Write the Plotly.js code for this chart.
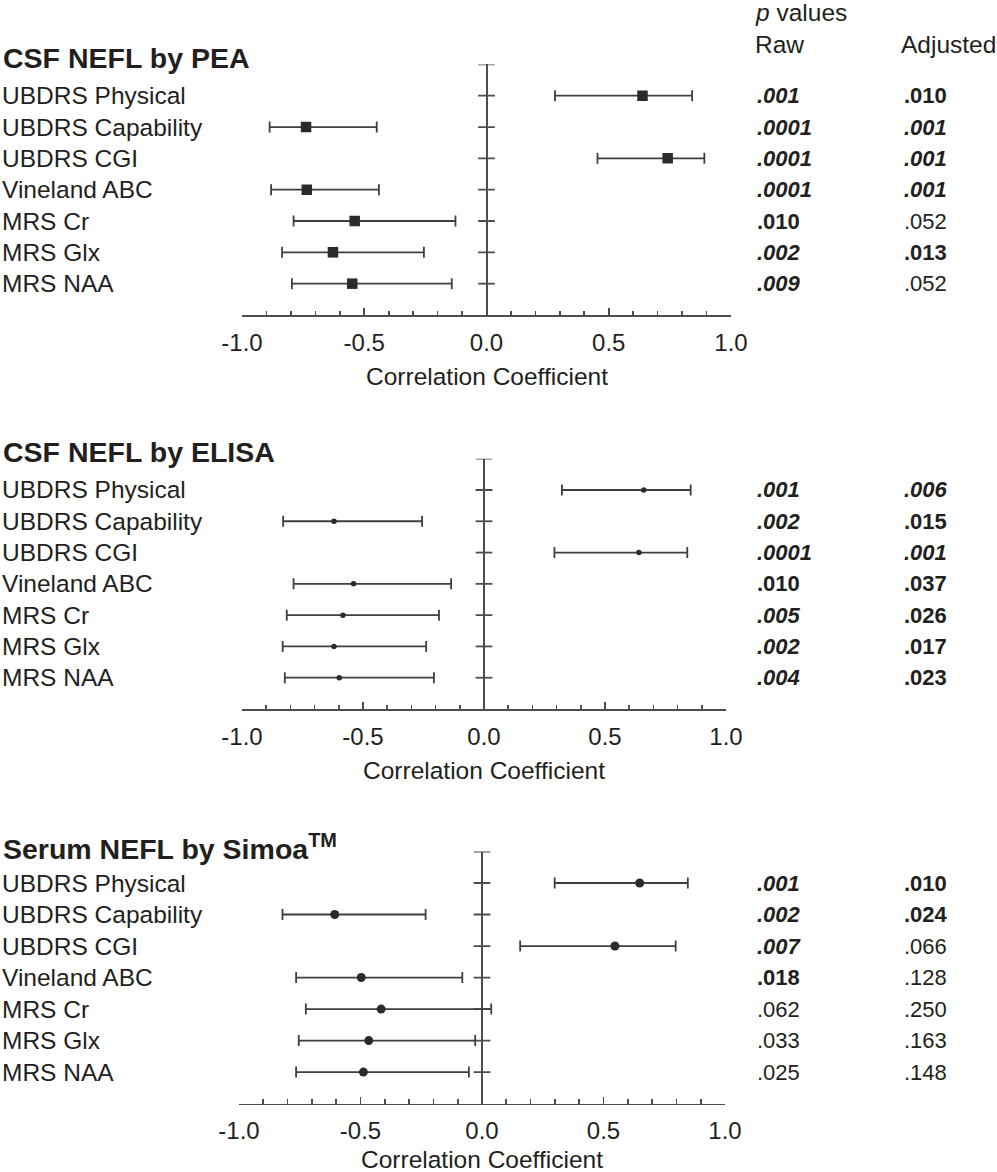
<!DOCTYPE html>
<html>
<head>
<meta charset="utf-8">
<script src="https://cdn.plot.ly/plotly-3.0.1.min.js"></script>
<style>html,body{margin:0;padding:0;background:#fff;}#chart{width:997px;height:1172px;}</style>
</head>
<body>
<div id="chart"></div>
<script>
// ---------- data ----------
const categories = ['UBDRS Physical','UBDRS Capability','UBDRS CGI','Vineland ABC','MRS Cr','MRS Glx','MRS NAA'];

const panelTitles = ['CSF NEFL by PEA','CSF NEFL by ELISA','Serum NEFL by Simoa<sup>TM</sup>'];
const axisTitle = 'Correlation Coefficient';
const tickValues = [-1, -0.5, 0, 0.5, 1];
const tickLabels = ['-1.0','-0.5','0.0','0.5','1.0'];
const pHeader = '<i>p</i> values';
const colHeaders = ['Raw','Adjusted'];

// CSF NEFL by PEA
const peaR  = [0.638, -0.738, 0.741, -0.735, -0.539, -0.628, -0.549];
const peaLo = [0.280, -0.887, 0.454, -0.881, -0.789, -0.836, -0.796];
const peaHi = [0.841, -0.449, 0.891, -0.440, -0.127, -0.256, -0.142];
const peaRaw      = ['.001','.0001','.0001','.0001','.010','.002','.009'];
const peaRawStyle = ['bi','bi','bi','bi','b','bi','bi'];
const peaAdj      = ['.010','.001','.001','.001','.052','.013','.052'];
const peaAdjStyle = ['b','bi','bi','bi','n','b','n'];

// CSF NEFL by ELISA
const elisaR  = [0.660, -0.620, 0.640, -0.539, -0.583, -0.620, -0.598];
const elisaLo = [0.322, -0.830, 0.291, -0.787, -0.815, -0.832, -0.823];
const elisaHi = [0.854, -0.256, 0.840, -0.136, -0.186, -0.239, -0.207];
const elisaRaw      = ['.001','.002','.0001','.010','.005','.002','.004'];
const elisaRawStyle = ['bi','bi','bi','b','bi','bi','bi'];
const elisaAdj      = ['.006','.015','.001','.037','.026','.017','.023'];
const elisaAdjStyle = ['bi','b','bi','b','b','b','b'];

// Serum NEFL by Simoa
const simoaR  = [0.649, -0.606, 0.547, -0.497, -0.415, -0.466, -0.488];
const simoaLo = [0.299, -0.821, 0.157, -0.765, -0.725, -0.754, -0.765];
const simoaHi = [0.847, -0.232, 0.797, -0.081, 0.038, -0.028, -0.054];
const simoaRaw      = ['.001','.002','.007','.018','.062','.033','.025'];
const simoaRawStyle = ['bi','bi','bi','b','n','n','n'];
const simoaAdj      = ['.010','.024','.066','.128','.250','.163','.148'];
const simoaAdjStyle = ['b','b','n','n','n','n','n'];

// ---------- layout helpers ----------
const W = 997, H = 1172;
const FONT = 'Liberation Sans, Arial, Helvetica, sans-serif';
const TXT = '#231f20';
const LINE = '#4d4d4d';
const MARK = '#2b2b2b';

const panels = [
  {r: peaR, lo: peaLo, hi: peaHi, raw: peaRaw, rawS: peaRawStyle, adj: peaAdj, adjS: peaAdjStyle,
   x0: 242, x1: 731, yTop: 64.4, yBot: 315, titleY: 58, axTitleY: 377, symbol: 'square', size: 10.5},
  {r: elisaR, lo: elisaLo, hi: elisaHi, raw: elisaRaw, rawS: elisaRawStyle, adj: elisaAdj, adjS: elisaAdjStyle,
   x0: 242, x1: 726, yTop: 458.7, yBot: 709, titleY: 452, axTitleY: 770, symbol: 'circle', size: 5.5},
  {r: simoaR, lo: simoaLo, hi: simoaHi, raw: simoaRaw, rawS: simoaRawStyle, adj: simoaAdj, adjS: simoaAdjStyle,
   x0: 239, x1: 725, yTop: 851.5, yBot: 1103.6, titleY: 847, axTitleY: 1159, symbol: 'circle', size: 9}
];

function styled(t, s) {
  if (s === 'bi') return '<b><i>' + t + '</i></b>';
  if (s === 'b') return '<b>' + t + '</b>';
  return t;
}
const py = v => 1 - v / H;
const px = v => v / W;

const rows = categories.map((c, i) => i + 1);
const capRows = [0].concat(rows);

const data = [];
const annotations = [];
const layout = {
  width: W, height: H,
  margin: {l: 0, r: 0, t: 0, b: 0},
  paper_bgcolor: '#ffffff', plot_bgcolor: '#ffffff',
  showlegend: false,
  font: {family: FONT, color: TXT, size: 24},
  annotations: annotations
};

panels.forEach((p, k) => {
  const n = k + 1;
  const xa = 'x' + (n === 1 ? '' : n), ya = 'y' + (n === 1 ? '' : n);
  const xKey = 'xaxis' + (n === 1 ? '' : n), yKey = 'yaxis' + (n === 1 ? '' : n);

  layout[xKey] = {
    domain: [px(p.x0), px(p.x1)], anchor: ya, range: [-1, 1],
    tickmode: 'array', tickvals: tickValues, ticktext: tickLabels,
    ticks: 'inside', ticklen: 7, tickwidth: 1.6, tickcolor: LINE,
    minor: {dtick: 0.1, tick0: 0, ticks: 'inside', ticklen: 4.5, tickwidth: 1.6, tickcolor: LINE, showgrid: false},
    showline: true, linecolor: LINE, linewidth: 1.8,
    showgrid: false, zeroline: true, zerolinecolor: LINE, zerolinewidth: 2,
    tickfont: {family: FONT, size: 24, color: TXT},
    ticklabelstandoff: 5,
    fixedrange: true
  };
  layout[yKey] = {
    domain: [py(p.yBot), py(p.yTop)], anchor: xa, range: [8, 0],
    showline: false, showticklabels: false, ticks: '', showgrid: false, zeroline: false,
    fixedrange: true
  };

  // cross ticks on the zero line
  data.push({
    type: 'scatter', mode: 'markers', xaxis: xa, yaxis: ya,
    x: capRows.map(() => 0), y: capRows,
    marker: {symbol: 'line-ew', size: 12, line: {width: 1.8, color: LINE}},
    hoverinfo: 'skip'
  });

  // correlation estimates with confidence intervals
  data.push({
    type: 'scatter', mode: 'markers', xaxis: xa, yaxis: ya,
    x: p.r, y: rows, text: categories,
    error_x: {type: 'data', symmetric: false,
      array: p.hi.map((h, i) => h - p.r[i]),
      arrayminus: p.lo.map((l, i) => p.r[i] - l),
      width: 5.5, thickness: 1.8, color: '#3f3f3f'},
    marker: {symbol: p.symbol, size: p.size, color: MARK, line: {width: 0}},
    hovertemplate: '%{text}: %{x}<extra></extra>'
  });

  // panel title
  annotations.push({xref: 'paper', yref: 'paper', x: px(1), y: py(p.titleY),
    xanchor: 'left', yanchor: 'middle', showarrow: false,
    text: '<b>' + panelTitles[k] + '</b>', font: {family: FONT, size: 28.5, color: TXT}});

  // axis title
  annotations.push({xref: 'paper', yref: 'paper', x: px((p.x0 + p.x1) / 2), y: py(p.axTitleY),
    xanchor: 'center', yanchor: 'middle', showarrow: false,
    text: axisTitle, font: {family: FONT, size: 24.5, color: TXT}});

  categories.forEach((c, i) => {
    annotations.push({xref: 'paper', yref: ya, x: px(0), y: rows[i],
      xanchor: 'left', yanchor: 'middle', showarrow: false,
      text: c, font: {family: FONT, size: 24.5, color: TXT}});
    annotations.push({xref: 'paper', yref: ya, x: px(755), y: rows[i],
      xanchor: 'left', yanchor: 'middle', showarrow: false,
      text: styled(p.raw[i], p.rawS[i]), font: {family: FONT, size: 22, color: TXT}});
    annotations.push({xref: 'paper', yref: ya, x: px(902), y: rows[i],
      xanchor: 'left', yanchor: 'middle', showarrow: false,
      text: styled(p.adj[i], p.adjS[i]), font: {family: FONT, size: 22, color: TXT}});
  });
});

// column headers
annotations.push({xref: 'paper', yref: 'paper', x: px(753), y: py(13), xanchor: 'left', yanchor: 'middle',
  showarrow: false, text: pHeader, font: {family: FONT, size: 24.5, color: TXT}});
annotations.push({xref: 'paper', yref: 'paper', x: px(753), y: py(45), xanchor: 'left', yanchor: 'middle',
  showarrow: false, text: colHeaders[0], font: {family: FONT, size: 24.5, color: TXT}});
annotations.push({xref: 'paper', yref: 'paper', x: px(899), y: py(45), xanchor: 'left', yanchor: 'middle',
  showarrow: false, text: colHeaders[1], font: {family: FONT, size: 24.5, color: TXT}});

Plotly.newPlot('chart', data, layout, {staticPlot: true, displayModeBar: false});
</script>
</body>
</html>
